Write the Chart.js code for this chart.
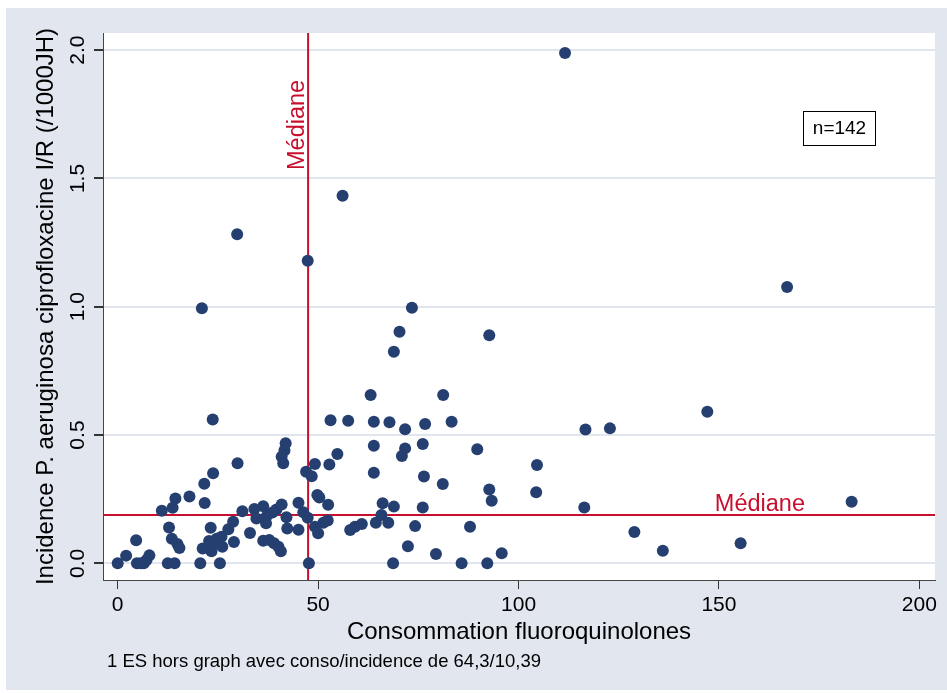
<!DOCTYPE html>
<html>
<head>
<meta charset="utf-8">
<script src="https://cdn.jsdelivr.net/npm/chart.js@4.4.1/dist/chart.umd.min.js"></script>
<style>
html,body{margin:0;padding:0;background:#fff;}
#wrap{position:absolute;left:0;top:0;width:947px;height:693px;}
</style>
</head>
<body>
<div id="wrap"><canvas id="graf" width="947" height="693"></canvas></div>
<script>
// consommation fluoroquinolones (x) / incidence P. aeruginosa cipro I/R (y), un point par ES
const conso = [0, 2.1, 4.6, 4.8, 5.8, 6.5, 7.2, 7.9, 11, 12.8,
  12.5, 14.2, 13.5, 14.9, 15.4, 13.7, 14.4, 17.9, 21.6, 21.7,
  23.8, 23.7, 21, 29.8, 29.9, 20.6, 25.5, 23.2, 21.2, 22.8,
  23.4, 24.7, 25.9, 26.1, 25.1, 27.6, 28.8, 29, 31.1, 33,
  34.1, 34.6, 36.3, 37.2, 37, 36.3, 37.8, 39, 40.1, 40.7,
  39.6, 40.9, 42.1, 42.3, 38.6, 45.1, 45.1, 46.3, 47.4, 47,
  48.4, 49.2, 49.8, 50.3, 41.9, 41.6, 40.9, 41.3, 49.2, 50,
  51.3, 52.4, 47.7, 47.4, 52.8, 53.1, 54.8, 52.5, 56.1, 57.5,
  58, 59.2, 60.9, 63.1, 63.9, 63.9, 63.9, 64.4, 65.8, 67.5,
  66.1, 68.9, 67.8, 71.7, 71.7, 70.9, 72.4, 74.2, 76.7, 76.1,
  76.4, 76.1, 79.4, 81.2, 81.1, 83.3, 87.9, 89.7, 92.7, 93.3,
  95.8, 68.9, 70.3, 73.4, 92.7, 104.6, 104.4, 111.6, 116.7, 122.8,
  116.4, 128.9, 136, 147.1, 155.4, 167, 183.1, 68.7, 85.8, 92.2];
const incid = [0, 0.03, 0.09, 0, 0, 0, 0.013, 0.031, 0.205, 0.14,
  0, 0, 0.096, 0.075, 0.06, 0.217, 0.253, 0.26, 0.31, 0.235,
  0.351, 0.561, 0.994, 1.283, 0.39, 0, 0, 0.139, 0.058, 0.087,
  0.047, 0.096, 0.104, 0.065, 0.078, 0.133, 0.162, 0.083, 0.203, 0.118,
  0.212, 0.175, 0.222, 0.184, 0.156, 0.088, 0.091, 0.078, 0.065, 0.047,
  0.21, 0.229, 0.18, 0.136, 0.198, 0.236, 0.131, 0.199, 0.178, 0.357,
  0.339, 0.387, 0.266, 0.257, 0.468, 0.44, 0.415, 0.39, 0.143, 0.117,
  0.158, 0.167, 0, 1.179, 0.385, 0.558, 0.426, 0.228, 1.433, 0.556,
  0.13, 0.143, 0.153, 0.656, 0.552, 0.458, 0.353, 0.158, 0.188, 0.158,
  0.234, 0.221, 0.55, 0.523, 0.448, 0.418, 0.067, 0.145, 0.543, 0.465,
  0.338, 0.218, 0.036, 0.656, 0.309, 0.552, 0.143, 0.445, 0.288, 0.244,
  0.039, 0.825, 0.903, 0.996, 0.889, 0.383, 0.277, 1.989, 0.522, 0.526,
  0.218, 0.122, 0.049, 0.591, 0.078, 1.077, 0.24, 0, 0, 0];

const medConso = 47.5;
const medIncid = 0.188;
const xTicks = [0, 50, 100, 150, 200];
const yTicks = [0, 0.5, 1, 1.5, 2];
const yTickLabels = ['0.0', '0.5', '1.0', '1.5', '2.0'];
const xTitle = 'Consommation fluoroquinolones';
const yTitle = 'Incidence P. aeruginosa ciprofloxacine I/R (/1000JH)';
const nLabel = 'n=142';
const footnote = '1 ES hors graph avec conso/incidence de 64,3/10,39';

const xMin = -3.67, xMax = 203.9;
const yMin = -0.065, yMax = 2.067;

const police = "'Liberation Sans', Arial, sans-serif";
const bleuNuit = '#243f70';
const rouge = '#c8102e';
const fondGris = '#e1e6ef';

const decor = {
  id: 'decor',
  beforeDraw(chart) {
    const ctx = chart.ctx, a = chart.chartArea;
    ctx.save();
    ctx.fillStyle = '#fff';
    ctx.fillRect(0, 0, chart.width, chart.height);
    ctx.fillStyle = fondGris;
    ctx.fillRect(6, 8, chart.width - 6, 682);
    ctx.fillStyle = '#fff';
    ctx.fillRect(a.left, a.top, a.right - a.left, a.bottom - a.top);
    ctx.restore();
  },
  afterDraw(chart) {
    const ctx = chart.ctx, a = chart.chartArea;
    const sx = chart.scales.x, sy = chart.scales.y;
    ctx.save();
    ctx.fillStyle = '#000';
    ctx.textAlign = 'center';
    ctx.textBaseline = 'middle';

    // etiquettes y tournees comme dans Stata
    ctx.font = '21px ' + police;
    yTicks.forEach((v, i) => {
      ctx.save();
      ctx.translate(78, sy.getPixelForValue(v));
      ctx.rotate(-Math.PI / 2);
      ctx.fillText(yTickLabels[i], 0, 0);
      ctx.restore();
    });

    ctx.font = '24px ' + police;
    ctx.save();
    ctx.translate(46, (a.top + a.bottom) / 2);
    ctx.rotate(-Math.PI / 2);
    ctx.fillText(yTitle, 0, 0);
    ctx.restore();

    ctx.fillText(xTitle, (a.left + a.right) / 2, 632);

    ctx.font = '18.5px ' + police;
    ctx.textAlign = 'left';
    ctx.fillText(footnote, 107, 662);

    // boite n=
    ctx.fillStyle = '#fff';
    ctx.fillRect(803, 111, 73, 35);
    ctx.strokeStyle = '#000';
    ctx.lineWidth = 1;
    ctx.strokeRect(803.5, 111.5, 72, 34);
    ctx.fillStyle = '#000';
    ctx.font = '19px ' + police;
    ctx.textAlign = 'center';
    ctx.fillText(nLabel, 839.5, 129);

    // libelles des medianes
    ctx.fillStyle = rouge;
    ctx.font = '23.5px ' + police;
    ctx.textBaseline = 'alphabetic';
    ctx.textAlign = 'right';
    ctx.fillText('Médiane', 805, sy.getPixelForValue(medIncid) - 4);
    ctx.save();
    ctx.translate(sx.getPixelForValue(medConso) - 4, 170);
    ctx.rotate(-Math.PI / 2);
    ctx.textAlign = 'left';
    ctx.fillText('Médiane', 0, 0);
    ctx.restore();
    ctx.restore();
  }
};

new Chart(document.getElementById('graf'), {
  type: 'scatter',
  data: {
    datasets: [{
      data: conso.map((x, i) => ({x: x, y: incid[i]})),
      backgroundColor: bleuNuit,
      borderWidth: 0,
      pointRadius: 6,
      order: 0
    }, {
      type: 'line',
      data: [{x: medConso, y: yMin}, {x: medConso, y: yMax}],
      borderColor: rouge,
      borderWidth: 2,
      pointRadius: 0,
      order: 1
    }, {
      type: 'line',
      data: [{x: xMin, y: medIncid}, {x: xMax, y: medIncid}],
      borderColor: rouge,
      borderWidth: 2,
      pointRadius: 0,
      order: 1
    }]
  },
  options: {
    responsive: false,
    animation: false,
    devicePixelRatio: 1,
    layout: {padding: {top: 33, right: 12, left: 0, bottom: 0}},
    plugins: {legend: {display: false}, tooltip: {enabled: false}},
    scales: {
      x: {
        type: 'linear',
        min: xMin,
        max: xMax,
        afterBuildTicks: s => { s.ticks = xTicks.map(v => ({value: v})); },
        afterFit: s => { s.height = 113; },
        grid: {drawOnChartArea: false, tickLength: 9, tickColor: '#333'},
        border: {color: '#444', width: 1},
        ticks: {
          color: '#000',
          font: {family: police, size: 21},
          padding: 4,
          maxRotation: 0
        }
      },
      y: {
        type: 'linear',
        min: yMin,
        max: yMax,
        afterBuildTicks: s => { s.ticks = yTicks.map(v => ({value: v})); },
        afterFit: s => { s.width = 103; },
        grid: {color: '#e0e5ee', lineWidth: 2, tickLength: 9, tickColor: '#333'},
        border: {color: '#444', width: 1},
        ticks: {display: false}
      }
    }
  },
  plugins: [decor]
});
</script>
</body>
</html>
